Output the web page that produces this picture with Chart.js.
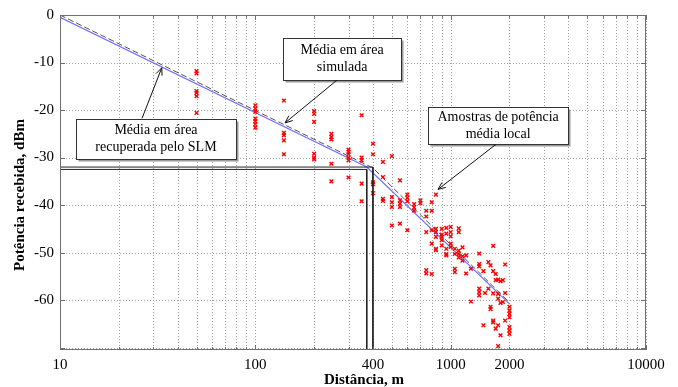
<!DOCTYPE html>
<html>
<head>
<meta charset="utf-8">
<script src="https://cdn.jsdelivr.net/npm/chart.js@4"></script>
<style>
  html, body { margin: 0; padding: 0; background: #fff; }
</style>
</head>
<body>
<canvas id="chart" width="678" height="387"></canvas>
<script>
/* ── local power samples (distance in m, power in dBm) ── */
const sampleDist = [
  50, 50, 50, 50, 50, 50,
  100, 100, 100, 100, 100, 100, 100,
  140, 140, 140, 140, 140,
  200, 200, 200, 200, 200, 200,
  245, 245, 245, 245, 245,
  300, 300, 300, 300, 300, 300,
  350, 350, 350, 350, 350,
  400, 400, 400, 400, 400,
  450, 450, 450, 450,
  500, 500, 500, 500, 500,
  550, 550, 550, 550, 550,
  600, 600, 600, 600,
  650, 650, 650,
  700, 700,
  750, 750, 750, 750, 750,
  800, 800, 800, 800, 800,
  840, 840, 840, 840, 840, 840,
  900, 900, 900, 900, 900,
  950, 950, 950, 950, 950,
  1000, 1000, 1000, 1000, 1000,
  1050, 1050, 1050, 1050,
  1100, 1100, 1100, 1100, 1100,
  1150, 1150, 1150,
  1200, 1200,
  1270, 1270,
  1400, 1400, 1400, 1400, 1400, 1400,
  1470, 1470,
  1500,
  1560, 1560,
  1600, 1600, 1600,
  1650, 1650, 1650, 1650, 1650,
  1700, 1700, 1700,
  1750, 1750, 1750, 1750, 1750,
  1800, 1800, 1800,
  1850, 1850,
  1900, 1900, 1900,
  2000, 2000, 2000, 2000, 2000, 2000, 2000
];
const samplePower = [
  -11.8, -12.3, -16.0, -16.4, -17.1, -20.6,
  -19.0, -19.7, -20.4, -21.8, -22.4, -23.0, -23.7,
  -18.0, -24.8, -25.3, -26.4, -29.3,
  -20.2, -20.8, -22.5, -29.2, -30.0, -30.4,
  -25.0, -25.7, -26.2, -31.3, -35.0,
  -28.3, -28.8, -29.3, -30.0, -30.6, -34.2,
  -21.1, -30.0, -30.6, -35.5, -39.2,
  -27.1, -29.3, -35.2, -35.6, -37.5,
  -30.9, -34.1, -38.7, -39.1,
  -29.7, -38.3, -39.4, -40.4, -44.3,
  -34.8, -39.0, -39.7, -40.4, -43.9,
  -37.8, -38.5, -39.2, -45.3,
  -39.8, -40.5, -41.2,
  -39.0, -39.6,
  -41.2, -42.4, -45.7, -53.7, -54.4,
  -39.4, -41.2, -45.3, -48.1, -54.5,
  -37.8, -45.0, -45.7, -46.7, -49.2, -49.5,
  -45.0, -46.2, -46.7, -47.4, -48.5,
  -44.8, -46.0, -49.2, -50.3, -50.6,
  -44.6, -45.7, -46.6, -48.1, -48.8,
  -49.2, -50.3, -53.4, -54.1,
  -44.9, -45.7, -49.6, -50.3, -51.0,
  -48.9, -50.8, -51.7,
  -50.6, -54.4,
  -53.4, -60.3,
  -50.2, -52.4, -52.9, -57.6, -58.3, -59.0,
  -53.9, -65.3,
  -58.5,
  -52.0, -57.6,
  -52.7, -61.4, -61.9,
  -48.6, -53.9, -58.6, -64.3, -64.7,
  -54.5, -55.8, -66.0,
  -55.7, -58.7, -59.7, -65.3, -69.7,
  -56.0, -60.6, -67.4,
  -55.8, -60.4,
  -52.5, -58.5, -64.3,
  -61.4, -62.2, -62.9, -63.6, -65.7, -66.4, -67.1
];

/* ── area mean curves ── */
const slmDist = [10, 372, 2000];
const slmPower = [-0.5, -32.0, -60.8];
const simDist = [10, 400, 2000];
const simPower = [0, -32.2, -60.5];

/* ── breakpoint markers ── */
const breakDist = [372, 400];
const breakPower = [-32.5, -32.0];

/* ── axes ── */
const xGrid = [10, 20, 30, 40, 50, 60, 70, 80, 90,
  100, 200, 300, 400, 500, 600, 700, 800, 900,
  1000, 2000, 3000, 4000, 5000, 6000, 7000, 8000, 9000, 10000];
const xLabels = [10, 100, 400, 1000, 2000, 10000];
const yTicks = [-70, -60, -50, -40, -30, -20, -10, 0];
const yLabels = [-60, -50, -40, -30, -20, -10, 0];
const X_MIN = 10, X_MAX = 10000, Y_MIN = -70.5, Y_MAX = 0;

const FONT = "'Liberation Serif', 'DejaVu Serif', serif";

// text boxes with arrows, anchored in data coordinates
const notes = [
  { lines: ['Média em área', 'recuperada pelo SLM'], at: { x: 31.0, y: -26.0 }, w: 160, h: 40,
    from: { x: 26.3, y: -21.75 }, to: { x: 33.2, y: -11.1 } },
  { lines: ['Média em área', 'simulada'], at: { x: 278, y: -9.3 }, w: 118, h: 42,
    from: { x: 262, y: -13.7 }, to: { x: 142, y: -22.7 } },
  { lines: ['Amostras de potência', 'média local'], at: { x: 1750, y: -23.3 }, w: 140, h: 37,
    from: { x: 1708, y: -27.2 }, to: { x: 862, y: -36.7 } }
];

const pts = (xs, ys) => xs.map((x, i) => ({ x: x, y: ys[i] }));

const breakSets = breakDist.map((d, i) => ({
  data: [{ x: X_MIN, y: breakPower[i] }, { x: d, y: breakPower[i] }, { x: d, y: Y_MIN }],
  showLine: true, borderColor: '#222', borderWidth: 1, pointRadius: 0, tension: 0
}));

// dotted grid, drawn under the data
const dottedGrid = {
  id: 'dottedGrid',
  beforeDatasetsDraw(chart) {
    const { ctx, chartArea: a, scales: { x, y } } = chart;
    ctx.save();
    ctx.strokeStyle = '#a0a0a0';
    ctx.lineWidth = 1;
    ctx.setLineDash([1, 2]);
    ctx.beginPath();
    xGrid.forEach(v => {
      const px = Math.round(x.getPixelForValue(v)) + 0.5;
      ctx.moveTo(px, a.top); ctx.lineTo(px, a.bottom);
    });
    yTicks.forEach(v => {
      const py = Math.round(y.getPixelForValue(v)) + 0.5;
      ctx.moveTo(a.left, py); ctx.lineTo(a.right, py);
    });
    ctx.stroke();
    ctx.restore();
  }
};

const decor = {
  id: 'decor',
  afterDraw(chart) {
    const { ctx, chartArea: a, scales: { x, y } } = chart;
    ctx.save();
    // frame
    ctx.strokeStyle = '#707070';
    ctx.lineWidth = 1;
    ctx.strokeRect(a.left + 0.5, a.top + 0.5, a.right - a.left - 1, a.bottom - a.top - 1);
    // inward ticks
    ctx.beginPath();
    xGrid.forEach(v => {
      const px = Math.round(x.getPixelForValue(v)) + 0.5;
      const len = [10, 100, 1000, 10000].includes(v) ? 5 : 3;
      ctx.moveTo(px, a.bottom); ctx.lineTo(px, a.bottom - len);
      ctx.moveTo(px, a.top); ctx.lineTo(px, a.top + len);
    });
    yTicks.forEach(v => {
      const py = Math.round(y.getPixelForValue(v)) + 0.5;
      ctx.moveTo(a.left, py); ctx.lineTo(a.left + 5, py);
      ctx.moveTo(a.right, py); ctx.lineTo(a.right - 5, py);
    });
    ctx.stroke();

    // notes
    ctx.font = '14px ' + FONT;
    ctx.textAlign = 'center';
    ctx.textBaseline = 'middle';
    notes.forEach(n => {
      const cx = x.getPixelForValue(n.at.x), cy = y.getPixelForValue(n.at.y);
      const bx = Math.round(cx - n.w / 2) + 0.5, by = Math.round(cy - n.h / 2) + 0.5;
      ctx.fillStyle = '#9a9a9a';
      ctx.fillRect(bx + 2, by + 2, n.w, n.h);
      ctx.fillStyle = '#fff';
      ctx.fillRect(bx, by, n.w, n.h);
      ctx.strokeStyle = '#333';
      ctx.lineWidth = 1;
      ctx.strokeRect(bx, by, n.w, n.h);
      ctx.fillStyle = '#000';
      n.lines.forEach((t, i) => ctx.fillText(t, cx, cy + (i - (n.lines.length - 1) / 2) * 17));

      const x0 = x.getPixelForValue(n.from.x), y0 = y.getPixelForValue(n.from.y);
      const x1 = x.getPixelForValue(n.to.x), y1 = y.getPixelForValue(n.to.y);
      const ang = Math.atan2(y1 - y0, x1 - x0);
      ctx.strokeStyle = '#111';
      ctx.beginPath();
      ctx.moveTo(x0, y0); ctx.lineTo(x1, y1);
      ctx.moveTo(x1 - 8 * Math.cos(ang - 0.4), y1 - 8 * Math.sin(ang - 0.4));
      ctx.lineTo(x1, y1);
      ctx.lineTo(x1 - 8 * Math.cos(ang + 0.4), y1 - 8 * Math.sin(ang + 0.4));
      ctx.stroke();
    });

    // axis titles
    ctx.fillStyle = '#000';
    ctx.font = 'bold 15px ' + FONT;
    ctx.textBaseline = 'alphabetic';
    ctx.fillText('Distância, m', 364, 384);
    ctx.translate(24, 195);
    ctx.rotate(-Math.PI / 2);
    ctx.fillText('Potência recebida, dBm', 0, 0);
    ctx.restore();
  }
};

new Chart(document.getElementById('chart'), {
  type: 'scatter',
  data: {
    datasets: [
      ...breakSets,
      {
        data: pts(sampleDist, samplePower),
        pointStyle: 'crossRot', pointRadius: 2.6, borderColor: '#ff0000', backgroundColor: '#ff0000',
        borderWidth: 1.4, showLine: false
      },
      {
        data: pts(simDist, simPower), showLine: true, borderColor: '#555', borderWidth: 1,
        borderDash: [6, 3], pointRadius: 0, tension: 0
      },
      {
        data: pts(slmDist, slmPower), showLine: true, borderColor: '#6f6fff', borderWidth: 1.2,
        pointRadius: 0, tension: 0
      }
    ]
  },
  options: {
    responsive: false,
    animation: false,
    devicePixelRatio: 1,
    layout: { padding: { left: 0, right: 32, top: 15, bottom: 0 } },
    plugins: { legend: { display: false }, tooltip: { enabled: false } },
    scales: {
      x: {
        type: 'logarithmic', min: X_MIN, max: X_MAX,
        afterBuildTicks: s => { s.ticks = xGrid.map(v => ({ value: v })); },
        afterFit: s => { s.height = 37; },
        grid: { display: false, drawTicks: false },
        border: { display: false },
        ticks: {
          autoSkip: false, maxRotation: 0, padding: 6, color: '#000',
          font: { family: FONT, size: 15 },
          callback: v => xLabels.includes(v) ? String(v) : ''
        }
      },
      y: {
        min: Y_MIN, max: Y_MAX,
        afterBuildTicks: s => { s.ticks = yTicks.map(v => ({ value: v })); },
        afterFit: s => { s.width = 60; },
        grid: { display: false, drawTicks: false },
        border: { display: false },
        ticks: {
          padding: 6, color: '#000',
          font: { family: FONT, size: 15 },
          callback: v => yLabels.includes(v) ? String(v) : ''
        }
      }
    }
  },
  plugins: [dottedGrid, decor]
});
</script>
</body>
</html>
